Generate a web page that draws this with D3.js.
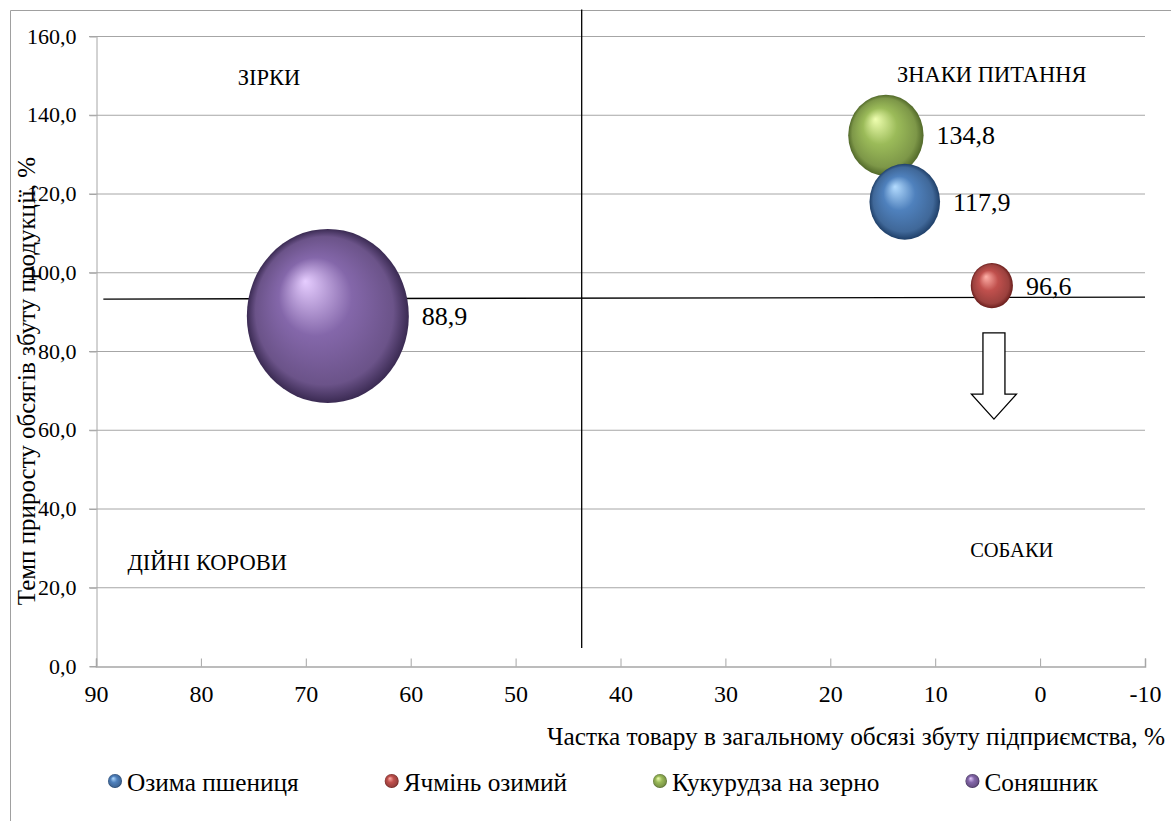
<!DOCTYPE html>
<html>
<head>
<meta charset="utf-8">
<script src="https://cdn.jsdelivr.net/npm/d3@7"></script>
<style>
  body { margin: 0; background: #fff; }
  svg text { font-family: "Liberation Serif", "Times New Roman", serif !important; fill: #000; }
</style>
</head>
<body>
<div id="chart"></div>
<script>
var width = 1171,
  height = 821,
  margin = { top: 36, right: 26, bottom: 155, left: 96 };

// data
var products = ["Озима пшениця", "Ячмінь озимий", "Кукурудза на зерно", "Соняшник"];
var share = [12.9, 4.6, 14.7, 67.9];        // x: частка, %
var growth = [117.9, 96.6, 134.8, 88.9];    // y: темп приросту, %
var bubbleSize = [12.9, 4.6, 14.7, 67.9];
var labels = ["117,9", "96,6", "134,8", "88,9"];
var xTicks = [90, 80, 70, 60, 50, 40, 30, 20, 10, 0, -10];
var yTicks = [0, 20, 40, 60, 80, 100, 120, 140, 160];

var colors = [
  { base: "#4f81bd", light: "#b4dcff", dark: "#1f3f68" },
  { base: "#c0504d", light: "#ffb0a8", dark: "#6a1e1c" },
  { base: "#9bbb59", light: "#efffb0", dark: "#52692a" },
  { base: "#8467aa", light: "#e6cdff", dark: "#3a2a52" }
];

// quadrant names (text in data units)
var quadrants = [
  { name: "ЗІРКИ", x: 73.5, y: 149.6 },
  { name: "ЗНАКИ ПИТАННЯ", x: 4.6, y: 150.3 },
  { name: "ДІЙНІ КОРОВИ", x: 79.4, y: 26.4 },
  { name: "СОБАКИ", x: 2.7, y: 29.5 }
];
var quadrantFont = [22.5, 22.5, 22.5, 20.5];
var dividerX = { x: 43.7, y1: 4.6, y2: 166.7 };
var dividerY = { x1: 89.3, x2: -10, y1: 93.2, y2: 93.7 };
var arrowDown = { x: 4.4, y1: 84.6, y2: 62.7 };

var svg = d3.select("#chart").append("svg")
  .attr("width", width)
  .attr("height", height);

var defs = svg.append("defs");

function sphereGradient(id, c) {
  var grad = defs.append("radialGradient")
    .attr("id", id)
    .attr("cx", "50%").attr("cy", "50%").attr("r", "50%")
    .attr("fx", "36%").attr("fy", "30%");
  grad.append("stop").attr("offset", "0%").attr("stop-color", c.light);
  grad.append("stop").attr("offset", "45%").attr("stop-color", c.base);
  grad.append("stop").attr("offset", "85%").attr("stop-color", d3.color(c.base).darker(0.6));
  grad.append("stop").attr("offset", "100%").attr("stop-color", c.dark);
}
colors.forEach(function (c, i) { sphereGradient("sphere" + i, c); });

// outer chart border
svg.append("path")
  .attr("d", "M10.5," + height + " L10.5,10.5 L" + width + ",10.5")
  .attr("fill", "none")
  .attr("stroke", "#a0a0a0")
  .attr("stroke-width", 1);

var x = d3.scaleLinear()
  .domain([90, -10])
  .range([margin.left, width - margin.right]);

var y = d3.scaleLinear()
  .domain([0, 160])
  .range([height - margin.bottom, margin.top]);

var r = d3.scaleSqrt()
  .domain([0, d3.max(bubbleSize)])
  .range([0, 81]);

// gridlines
svg.append("g")
  .selectAll("line")
  .data(yTicks.filter(function (d) { return d > 0; }))
  .enter().append("line")
  .attr("x1", x(90) - 7).attr("x2", x(-10))
  .attr("y1", function (d) { return y(d) + 0.5; })
  .attr("y2", function (d) { return y(d) + 0.5; })
  .attr("stroke", "#a6a6a6")
  .attr("stroke-width", 1);

// y axis
var yAxis = svg.append("g")
  .attr("transform", "translate(" + (x(90) + 0.5) + ",0)")
  .call(d3.axisLeft(y).tickValues(yTicks).tickSize(7).tickPadding(13)
    .tickFormat(function (d) { return d3.format(".1f")(d).replace(".", ","); }));
yAxis.select(".domain").attr("stroke", "#a6a6a6");
yAxis.selectAll(".tick line").attr("stroke", "#a6a6a6").attr("transform", "translate(0,0.5)");
yAxis.selectAll(".tick text")
  .attr("font-size", 22);

// x axis
var xAxis = svg.append("g")
  .attr("transform", "translate(0," + (y(0) + 0.5) + ")")
  .call(d3.axisBottom(x).tickValues(xTicks).tickSize(-8).tickPadding(18)
    .tickFormat(function (d) { return String(d); }));
xAxis.select(".domain").attr("stroke", "#a6a6a6").attr("stroke-width", 1.5);
xAxis.selectAll(".tick line").attr("stroke", "#a6a6a6");
xAxis.selectAll(".tick text")
  .attr("font-size", 24);

// axis titles
svg.append("text")
  .attr("x", width - 6)
  .attr("y", 745)
  .attr("text-anchor", "end")
  .attr("font-size", 25.3)
  .text("Частка товару в загальному обсязі збуту підприємства, %");

svg.append("text")
  .attr("transform", "translate(35,381) rotate(-90)")
  .attr("text-anchor", "middle")
  .attr("font-size", 25)
  .text("Темп приросту обсягів збуту продукції, %");

// quadrant labels
svg.append("g")
  .selectAll("text")
  .data(quadrants)
  .enter().append("text")
  .attr("x", function (d) { return x(d.x); })
  .attr("y", function (d) { return y(d.y); })
  .attr("dy", "0.35em")
  .attr("text-anchor", "middle")
  .attr("font-size", function (d, i) { return quadrantFont[i]; })
  .text(function (d) { return d.name; });

// divider lines
svg.append("line")
  .attr("x1", x(dividerX.x)).attr("x2", x(dividerX.x))
  .attr("y1", y(dividerX.y2)).attr("y2", y(dividerX.y1))
  .attr("stroke", "#000").attr("stroke-width", 1.3);

svg.append("line")
  .attr("x1", x(dividerY.x1)).attr("x2", x(dividerY.x2))
  .attr("y1", y(dividerY.y1)).attr("y2", y(dividerY.y2))
  .attr("stroke", "#000").attr("stroke-width", 1.3);

// bubbles
var bubbles = d3.range(products.length).map(function (i) {
  return { name: products[i], x: share[i], y: growth[i], size: bubbleSize[i], label: labels[i], i: i };
});
bubbles.sort(function (a, b) { return b.size - a.size; });

var bubble = svg.append("g")
  .selectAll("g")
  .data(bubbles)
  .enter().append("g");

bubble.append("ellipse")
  .attr("cx", function (d) { return x(d.x); })
  .attr("cy", function (d) { return y(d.y); })
  .attr("rx", function (d) { return r(d.size); })
  .attr("ry", function (d) { return r(d.size) * 1.075; })
  .attr("fill", function (d) { return "url(#sphere" + d.i + ")"; });

bubble.append("text")
  .attr("x", function (d) { return x(d.x) + r(d.size) + 13; })
  .attr("y", function (d) { return y(d.y); })
  .attr("dy", "0.35em")
  .attr("font-size", 26)
  .text(function (d) { return d.label; });

// down arrow
function drawArrow(cx, top, tip) {
  var shaft = 11, head = 22.5, headTop = tip - 25;
  return "M" + (cx - shaft) + "," + top +
    " L" + (cx + shaft) + "," + top +
    " L" + (cx + shaft) + "," + headTop +
    " L" + (cx + head) + "," + headTop +
    " L" + cx + "," + tip +
    " L" + (cx - head) + "," + headTop +
    " L" + (cx - shaft) + "," + headTop + " Z";
}
svg.append("path")
  .attr("d", drawArrow(x(arrowDown.x), y(arrowDown.y1), y(arrowDown.y2)))
  .attr("fill", "#fff")
  .attr("stroke", "#000")
  .attr("stroke-width", 1.3);

// legend
var legend = svg.append("g")
  .attr("transform", "translate(0,782)");

var lx = 108;
products.forEach(function (name, i) {
  var item = legend.append("g").attr("transform", "translate(" + lx + ",0)");
  item.append("circle")
    .attr("cx", 7).attr("cy", -1).attr("r", 7)
    .attr("fill", "url(#sphere" + i + ")");
  var t = item.append("text")
    .attr("x", 19)
    .attr("dy", "0.35em")
    .attr("font-size", 25.3)
    .text(name);
  lx += 19 + t.node().getComputedTextLength() + 86;
});
</script>
</body>
</html>
